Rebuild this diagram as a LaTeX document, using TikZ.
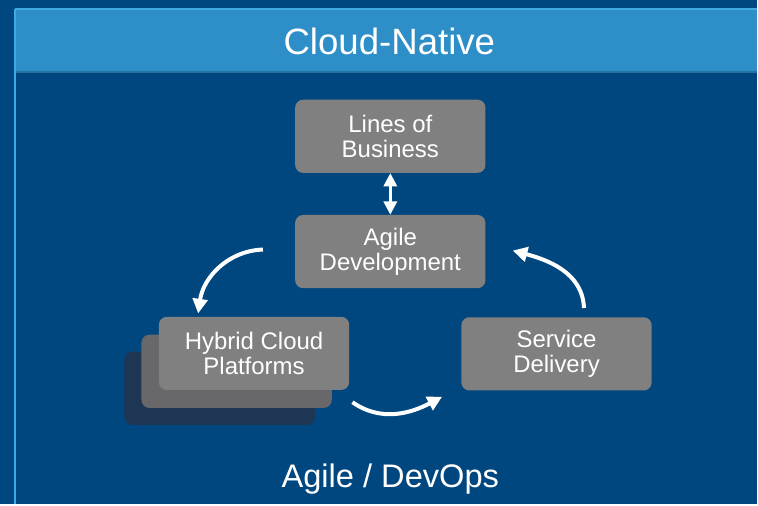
\documentclass[tikz,border=0pt]{standalone}
\usepackage{fontspec}
\setmainfont{Liberation Sans}
\usetikzlibrary{arrows.meta,calc}
\definecolor{bgblue}{RGB}{0,70,127}
\definecolor{headblue}{RGB}{46,143,200}
\definecolor{lineblue}{RGB}{62,170,225}
\definecolor{boxgray}{RGB}{128,128,128}
\definecolor{midgray}{RGB}{104,104,106}
\definecolor{backnavy}{RGB}{30,54,84}
\begin{document}
\begin{tikzpicture}[x=0.75pt,y=0.75pt,
	box/.style={rounded corners=6pt, fill=boxgray, text=white, minimum width=143pt, minimum height=55pt, align=center, inner sep=0pt, font=\fontsize{18}{19}\selectfont},
	cyc/.style={white, line width=3pt, -{Triangle[length=11pt,width=11pt]}}]
		% background and header
		\fill[bgblue] (0,0) rectangle (758,505);
		\fill[headblue] (15,433) rectangle (758,496);
		\draw[lineblue, line width=2pt] (15,496) -- (758,496);
		\draw[headblue!80!black, line width=1pt] (15,433) -- (758,433);
		\draw[lineblue, line width=1.5pt] (15,496) -- (15,0);
		\node[anchor=base, text=white, font=\fontsize{27.5}{30}\selectfont] (title) at (390,450) {Cloud-Native};
		\node[anchor=base, text=white, font=\fontsize{24.5}{27}\selectfont] (method) at (391,17) {Agile / DevOps};
		% boxes
		\node[box] (lob) at (391,368.5) {Lines of\\Business};
		\node[box] (agile) at (391,253) {Agile\\Development};
		\node[box, fill=backnavy, text=backnavy] (hybridback) at (220,116) {};
		\node[box, fill=midgray, text=midgray] (hybridmid) at (237,133) {};
		\node[box] (hybrid) at (254.5,151) {Hybrid Cloud\\Platforms};
		\node[box] (service) at (557.5,150.5) {Service\\Delivery};
		% arrows
		\draw[white, line width=2pt, {Triangle[length=10pt,width=10pt]}-{Triangle[length=10pt,width=10pt]}] (lob.south) -- (agile.north);
		\draw[cyc] ($(agile.west)+(-32,2)$) to[out=182,in=82] ($(hybrid.north)+(-56,3)$);
		\draw[cyc] ($(hybrid.south east)+(3,-12)$) to[out=-35,in=208] ($(service.south west)+(-19,-6)$);
		\draw[cyc] ($(service.north)+(27.5,9)$) to[out=92,in=-15] ($(agile.east)+(27,1)$);
	\end{tikzpicture}
\end{document}
